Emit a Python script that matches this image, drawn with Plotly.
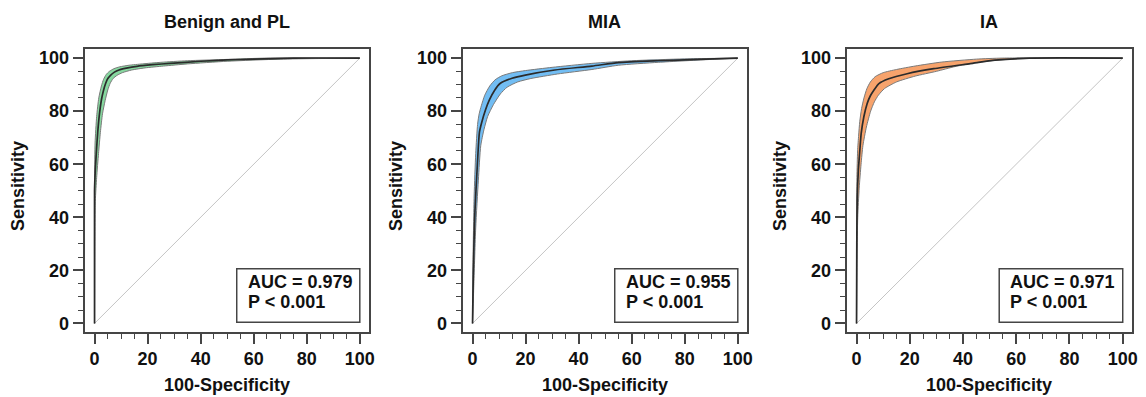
import plotly.graph_objects as go

# ---------------- data ----------------
panel_titles = ["Benign and PL", "MIA", "IA"]
auc_labels = ["AUC = 0.979", "AUC = 0.955", "AUC = 0.971"]
p_labels = ["P &lt; 0.001", "P &lt; 0.001", "P &lt; 0.001"]
x_title = "100-Specificity"
y_title = "Sensitivity"
tick_values = [0, 20, 40, 60, 80, 100]

# Benign and PL
benign_fpr = [0, 0, 0.3, 0.75, 1.2, 1.75, 2.6, 3.3, 4.2, 5, 6.1, 7.5, 9.2, 12, 16, 22, 28.5, 40, 50, 60, 75, 100]
benign_sens = [0, 50, 58, 65.5, 72, 78, 84.3, 87.5, 90.5, 92.3, 93.6, 94.7, 95.5, 96.2, 96.9, 97.5, 98, 98.8, 99.3, 99.6, 100, 100]
benign_hi_fpr = [0, 0, 0.2, 0.8, 1.6, 2.6, 3.4, 4.4, 5.6, 7.3, 9.5, 13, 18, 25, 35, 50, 65, 100]
benign_hi_sens = [0, 55, 68, 78, 85, 89.5, 92, 93.8, 95, 96, 96.7, 97.3, 97.8, 98.4, 99, 99.5, 100, 100]
benign_lo_fpr = [0, 0.3, 0.8, 1.5, 2.2, 3.0, 4.0, 5.0, 5.9, 7, 8.5, 10.5, 14, 19, 26, 35, 50, 70, 100]
benign_lo_sens = [0, 46, 55, 64, 72, 79, 84, 88, 90.5, 92.3, 93.5, 94.5, 95.5, 96.3, 97, 97.8, 98.8, 99.6, 100]

# MIA
mia_fpr = [0, 0.3, 0.9, 1.8, 2.6, 3.4, 4.9, 6.4, 8.4, 10.5, 14.9, 19.9, 31, 45, 55, 70, 85, 100]
mia_sens = [0, 20, 42, 59.5, 72, 75.5, 80.5, 84.3, 88, 90.5, 92.4, 93.6, 95.5, 97, 98.3, 99, 99.5, 100]
mia_hi_fpr = [0, 0.2, 0.6, 1.2, 1.9, 2.5, 3.3, 4.6, 6.5, 8.5, 11, 15, 20, 30, 45, 60, 80, 100]
mia_hi_sens = [0, 25, 48, 64, 75, 79, 82, 86, 89.5, 91.8, 93.3, 94.5, 95.3, 96.5, 98, 99, 99.7, 100]
mia_lo_fpr = [0, 0.5, 1.2, 2.2, 3.1, 4.3, 5.7, 7.9, 10.5, 13, 17, 22, 32, 45, 55, 70, 90, 100]
mia_lo_sens = [0, 15, 36, 54, 67, 73, 78, 82.5, 86.5, 89, 91, 92.3, 94, 95.7, 97.3, 98.4, 99.5, 100]

# IA
ia_fpr = [0, 0.1, 0.25, 0.7, 1.25, 1.75, 2.75, 4.0, 5.2, 6.5, 8.4, 12.1, 19, 29, 42.7, 52, 65, 100]
ia_sens = [0, 30, 47, 58, 65.4, 71.6, 77.9, 82.9, 85.8, 87.9, 90.4, 92.2, 94.1, 96, 97.9, 99.2, 100, 100]
ia_hi_fpr = [0, 0.05, 0.15, 0.4, 0.8, 1.2, 1.9, 2.8, 3.9, 5.2, 7, 10, 15, 22, 32, 45, 55, 100]
ia_hi_sens = [0, 38, 55, 65, 71, 76, 81, 85, 88.5, 91, 93, 94.5, 95.7, 97, 98.5, 99.6, 100, 100]
ia_lo_fpr = [0, 0.2, 0.45, 1.0, 1.7, 2.4, 3.7, 5.3, 6.7, 8.2, 10.5, 15, 22, 30, 37, 45, 55, 70, 100]
ia_lo_sens = [0, 25, 40, 51, 60, 67, 74, 80, 83.5, 86, 88.5, 91, 93.2, 95, 96.8, 98.3, 99.4, 100, 100]

# ---------------- styling ----------------
OFF = 8                      # default body margin of the page
W, H = 1146 - OFF, 397 - OFF
FONT = "Liberation Sans, Arial, sans-serif"
FS = 18
FRAME = "#454545"
band_colors = ["#86d89f", "#72bdf3", "#f7a36c"]
box_px = [(85, 371), (465, 751), (851, 1138)]   # page pixels
y_px = (49, 333.3)
x_range = [-3.75, 103.5]
y_range = [-3.1, 103.5]


def fx(px):
    return (px - OFF) / W


def fy(py):
    return 1 - (py - OFF) / H


panels = [
    (benign_fpr, benign_sens, benign_hi_fpr, benign_hi_sens, benign_lo_fpr, benign_lo_sens),
    (mia_fpr, mia_sens, mia_hi_fpr, mia_hi_sens, mia_lo_fpr, mia_lo_sens),
    (ia_fpr, ia_sens, ia_hi_fpr, ia_hi_sens, ia_lo_fpr, ia_lo_sens),
]

fig = go.Figure()
annotations = []
shapes = []
bold = dict(family=FONT, size=FS, color="#111", weight="bold")

for i, (fpr, sens, hfpr, hsens, lfpr, lsens) in enumerate(panels):
    n = "" if i == 0 else str(i + 1)
    xa, ya = "x" + n, "y" + n
    fig.add_trace(go.Scatter(x=[0, 100], y=[0, 100], mode="lines",
                             line=dict(color="#c4c4c4", width=1),
                             xaxis=xa, yaxis=ya, showlegend=False, hoverinfo="skip"))
    fig.add_trace(go.Scatter(x=hfpr + lfpr[::-1], y=hsens + lsens[::-1], mode="lines",
                             fill="toself", fillcolor=band_colors[i],
                             line=dict(color="#7a7a7a", width=1, shape="spline", smoothing=0.6),
                             xaxis=xa, yaxis=ya, showlegend=False, hoverinfo="skip"))
    fig.add_trace(go.Scatter(x=fpr, y=sens, mode="lines",
                             line=dict(color="#2b2b2b", width=1.7, shape="spline", smoothing=0.6),
                             xaxis=xa, yaxis=ya, showlegend=False))

    x0, x1 = box_px[i]
    axis_common = dict(showline=True, linewidth=2, linecolor=FRAME, mirror=True,
                       showgrid=False, zeroline=False, ticks="outside", ticklen=10,
                       tickwidth=1.5, tickcolor=FRAME, tickvals=tick_values,
                       tickfont=bold,
                       minor=dict(ticks="outside", dtick=5, tick0=0, ticklen=5,
                                  tickwidth=1.2, tickcolor=FRAME, showgrid=False))
    fig.layout["xaxis" + n] = dict(domain=[fx(x0), fx(x1)], range=x_range, anchor=ya, **axis_common)
    fig.layout["yaxis" + n] = dict(domain=[fy(y_px[1]), fy(y_px[0])], range=y_range, anchor=xa, **axis_common)

    cx = (x0 + x1) / 2
    annotations.append(dict(text=panel_titles[i], x=fx(cx), y=fy(22), xref="paper", yref="paper",
                            xanchor="center", yanchor="middle", showarrow=False, font=bold))
    annotations.append(dict(text=x_title, x=fx(x0 + 143), y=fy(387), xref="paper", yref="paper",
                            xanchor="center", yanchor="middle", showarrow=False, font=bold))
    annotations.append(dict(text=y_title, x=fx(x0 - 67), y=fy(187), xref="paper", yref="paper",
                            xanchor="center", yanchor="middle", showarrow=False, textangle=-90,
                            font=bold))
    annotations.append(dict(text=auc_labels[i], x=57, y=15.7, xref=xa, yref=ya,
                            xanchor="left", yanchor="middle", showarrow=False, font=bold))
    annotations.append(dict(text=p_labels[i], x=57, y=7.9, xref=xa, yref=ya,
                            xanchor="left", yanchor="middle", showarrow=False, font=bold))
    shapes.append(dict(type="rect", x0=53.6, x1=100, y0=0.4, y1=20.6, xref=xa, yref=ya,
                       line=dict(color=FRAME, width=1.5), fillcolor="rgba(0,0,0,0)"))

fig.update_layout(width=W, height=H, margin=dict(l=0, r=0, t=0, b=0),
                  plot_bgcolor="white", paper_bgcolor="white",
                  annotations=annotations, shapes=shapes, showlegend=False)

fig.write_html("out.html")
